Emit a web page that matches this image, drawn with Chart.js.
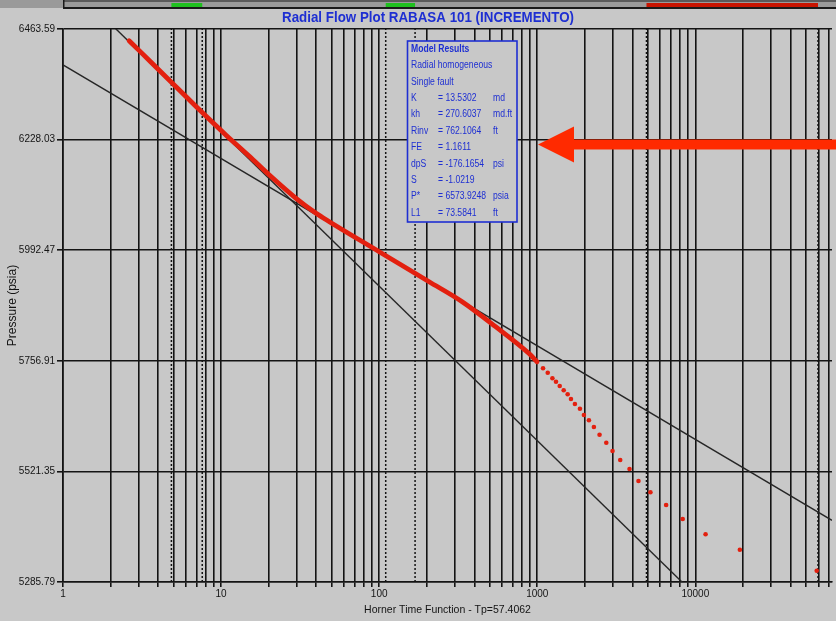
<!DOCTYPE html>
<html>
<head>
<meta charset="utf-8">
<title>Radial Flow Plot RABASA 101 (INCREMENTO)</title>
<script src="https://cdn.jsdelivr.net/npm/chart.js@4.4.0/dist/chart.umd.min.js"></script>
<style>
  html, body { margin: 0; padding: 0; background: #c8c8c8; }
  #wrap { width: 836px; height: 621px; }
</style>
</head>
<body>
<div id="wrap"><canvas id="horner" width="836" height="621"></canvas></div>
<script>
// ---- values ----

// measured pressures, dense (late time) part, drawn as a thick band
const horner_dense   = [2.62, 3.06, 4.09, 4.96, 7.35, 10.8, 15.1, 20.2, 29.8, 39.9, 48.4, 100, 207, 335, 545, 884, 997];
const pressure_dense = [6438.5, 6416.5, 6374.5, 6347.0, 6290.5, 6237.0, 6192.5, 6152.6, 6103.0, 6071.1, 6053.2, 5989.3, 5925.4, 5882.8, 5829.6, 5772.9, 5755.0];

// measured pressures, early time, separate dots
const horner_sparse = [1088, 1165, 1247, 1314, 1387, 1470, 1557, 1634, 1731, 1862, 1973, 2123, 2282, 2478,
                       2733, 2994, 3348, 3834, 4368, 5200, 6535, 8318, 11610, 19130, 58580];
const pressure_sparse = [5740.9, 5731.6, 5719.6, 5712.4, 5703.2, 5694.1, 5685.6, 5675.6, 5664.9, 5654.9, 5641.5, 5630.2, 5615.9, 5599.5,
                         5582.5, 5564.8, 5545.7, 5526.5, 5500.9, 5476.9, 5449.8, 5420.0, 5387.4, 5354.6, 5309.9];

// straight line fits (end points)
const lineA_x = [1, 10000];
const lineA_p = [6573.92, 5257.92];
const lineB_x = [1, 73200];
const lineB_p = [6387.2, 5417.2];

// dotted range markers and the matching strip colours
const marker_x = [4.85, 7.6, 110, 168.7, 4909, 59700];
const strip_ranges = [[4.85, 7.6, '#1fc01f'], [110, 168.7, '#1fc01f'], [4909, 59700, '#c81400']];

const y_ticks  = [5285.79, 5521.35, 5756.91, 5992.47, 6228.03, 6463.59];
const x_labels = [1, 10, 100, 1000, 10000];
const x_min = 1, x_max = 73200;

const model_title = 'Model Results';
const model_lines = ['Radial homogeneous', 'Single fault'];
const model_keys  = ['K', 'kh', 'Rinv', 'FE', 'dpS', 'S', 'P*', 'L1'];
const model_vals  = ['= 13.5302', '= 270.6037', '= 762.1064', '= 1.1611', '= -176.1654', '= -1.0219', '= 6573.9248', '= 73.5841'];
const model_units = ['md', 'md.ft', 'ft', '', 'psi', '', 'psia', 'ft'];

// ---- helpers ----
const BG = '#c8c8c8';
const INK = '#141414';
const BLUE = '#1e2fd2';
const FONT = "'Liberation Sans', Arial, sans-serif";

const pts = (xs, ys) => xs.map((x, i) => ({ x, y: ys[i] }));

// narrow text, the original uses a condensed face
function narrowText(ctx, text, x, y, sx) {
  ctx.save();
  ctx.translate(x, y);
  ctx.scale(sx, 1);
  ctx.fillText(text, 0, 0);
  ctx.restore();
}

// grid at every 1..9 multiple of each decade
const x_grid = [];
for (let d = 1; d <= 10000; d *= 10) {
  for (let m = 1; m <= 9; m++) {
    if (m * d <= x_max) x_grid.push(m * d);
  }
}

const markerSets = marker_x.map(v => ({
  data: [{ x: v, y: y_ticks[0] }, { x: v, y: y_ticks[y_ticks.length - 1] }],
  showLine: true,
  borderColor: INK,
  borderWidth: 1.5,
  borderDash: [2, 2],
  pointRadius: 0,
  order: 4,
}));

const decorPlugin = {
  id: 'decor',
  beforeDraw(chart) {
    const { ctx, width, height } = chart;
    const xs = chart.scales.x;
    const left = chart.chartArea.left;
    ctx.save();
    ctx.fillStyle = BG;
    ctx.fillRect(0, 0, width, height);
    // window strip along the top
    ctx.fillStyle = '#9a9a9a';
    ctx.fillRect(0, 0, width, 8);
    ctx.fillStyle = '#5a5a5a';
    ctx.fillRect(left, 0, width - left, 2);
    ctx.fillStyle = '#1a1a1a';
    ctx.fillRect(left, 7, width - left, 2);
    ctx.fillRect(left, 0, 1.5, 8);
    strip_ranges.forEach(([a, b, c]) => {
      const pa = xs.getPixelForValue(a), pb = xs.getPixelForValue(b);
      ctx.fillStyle = c;
      ctx.fillRect(pa, 3, pb - pa, 4);
    });
    ctx.restore();
  },
  afterDatasetsDraw(chart) {
    const { ctx } = chart;
    ctx.save();

    // title
    ctx.fillStyle = BLUE;
    ctx.font = `bold 15px ${FONT}`;
    ctx.textAlign = 'center';
    ctx.textBaseline = 'middle';
    narrowText(ctx, 'Radial Flow Plot RABASA 101 (INCREMENTO)', 428, 18, 0.89);

    // model results panel
    const bx = 407.5, by = 41, bw = 109.5, bh = 181;
    ctx.fillStyle = BG;
    ctx.fillRect(bx, by, bw, bh);
    ctx.strokeStyle = BLUE;
    ctx.lineWidth = 1.6;
    ctx.strokeRect(bx, by, bw, bh);
    ctx.fillStyle = BLUE;
    ctx.textAlign = 'left';
    const sx = 0.86;
    ctx.font = `bold 10px ${FONT}`;
    narrowText(ctx, model_title, 411, 49, sx);
    ctx.font = `10px ${FONT}`;
    let y = 49 + 16.4;
    model_lines.forEach(t => { narrowText(ctx, t, 411, y, sx); y += 16.4; });
    model_keys.forEach((k, i) => {
      narrowText(ctx, k, 411, y, sx);
      narrowText(ctx, model_vals[i], 438, y, sx);
      narrowText(ctx, model_units[i], 493, y, sx);
      y += 16.4;
    });

    // red arrow
    ctx.fillStyle = '#ff2a00';
    ctx.beginPath();
    ctx.moveTo(538, 144.5);
    ctx.lineTo(574, 126.5);
    ctx.lineTo(574, 139.5);
    ctx.lineTo(836, 139.5);
    ctx.lineTo(836, 149.5);
    ctx.lineTo(574, 149.5);
    ctx.lineTo(574, 162.5);
    ctx.closePath();
    ctx.fill();

    ctx.restore();
  },
};

new Chart(document.getElementById('horner'), {
  type: 'scatter',
  data: {
    datasets: [
      {
        data: pts(horner_sparse, pressure_sparse),
        pointRadius: 2.3,
        pointBackgroundColor: '#e3200f',
        pointBorderWidth: 0,
        showLine: false,
        order: 0,
      },
      {
        data: pts(horner_dense, pressure_dense),
        showLine: true,
        borderColor: '#e3200f',
        borderWidth: 4.8,
        borderJoinStyle: 'round',
        borderCapStyle: 'round',
        cubicInterpolationMode: 'monotone',
        pointRadius: 0,
        order: 1,
      },
      {
        data: pts(lineA_x, lineA_p),
        showLine: true,
        borderColor: '#262626',
        borderWidth: 1.4,
        pointRadius: 0,
        order: 2,
      },
      {
        data: pts(lineB_x, lineB_p),
        showLine: true,
        borderColor: '#262626',
        borderWidth: 1.4,
        pointRadius: 0,
        order: 3,
      },
      ...markerSets,
    ],
  },
  options: {
    responsive: false,
    animation: false,
    devicePixelRatio: 1,
    layout: { padding: { top: 29, right: 2, left: 0, bottom: 0 } },
    plugins: {
      legend: { display: false },
      tooltip: { enabled: false },
      title: { display: false },
    },
    scales: {
      x: {
        type: 'logarithmic',
        min: x_min,
        max: x_max,
        afterBuildTicks: (scale) => { scale.ticks = x_grid.map(v => ({ value: v })); },
        afterFit: (scale) => { scale.height = 39; },
        ticks: {
          autoSkip: false,
          maxRotation: 0,
          padding: 1,
          color: INK,
          font: { family: FONT, size: 10 },
          callback: (v) => x_labels.includes(v) ? String(v) : '',
        },
        grid: { color: INK, lineWidth: 1.6, tickLength: 5 },
        border: { color: INK, width: 1.6 },
        title: {
          display: true,
          text: 'Horner Time Function - Tp=57.4062',
          color: INK,
          font: { family: FONT, size: 10.5 },
          padding: { top: 0, bottom: 5 },
        },
      },
      y: {
        min: y_ticks[0],
        max: y_ticks[y_ticks.length - 1],
        afterBuildTicks: (scale) => { scale.ticks = y_ticks.map(v => ({ value: v })); },
        afterFit: (scale) => { scale.width = 63; },
        ticks: {
          padding: 2,
          color: INK,
          font: { family: FONT, size: 10 },
          callback: (v) => v.toFixed(2),
        },
        grid: { color: INK, lineWidth: 1.6, tickLength: 6 },
        border: { color: INK, width: 1.6 },
        title: {
          display: true,
          text: 'Pressure (psia)',
          color: INK,
          font: { family: FONT, size: 12 },
          padding: { top: 5, bottom: 0 },
        },
      },
    },
  },
  plugins: [decorPlugin],
});
</script>
</body>
</html>
